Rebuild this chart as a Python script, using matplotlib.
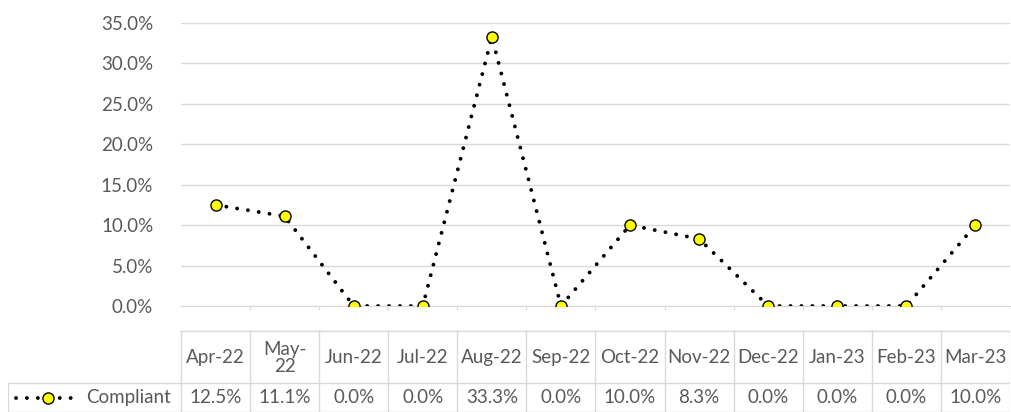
import matplotlib.pyplot as plt
from matplotlib.ticker import PercentFormatter

# Data
months = ['Apr-22', 'May-\n22', 'Jun-22', 'Jul-22', 'Aug-22', 'Sep-22',
          'Oct-22', 'Nov-22', 'Dec-22', 'Jan-23', 'Feb-23', 'Mar-23']
compliant = [12.5, 11.1, 0.0, 0.0, 33.3, 0.0, 10.0, 8.3, 0.0, 0.0, 0.0, 10.0]
series_name = 'Compliant'

plt.rcParams['font.family'] = ['Lato', 'DejaVu Sans']
text_color = '#595959'
grid_color = '#d9d9d9'
fs = 13.5
dots = (0, (0.01, 2.8))
lw = 2.8

W, H = 1012, 412
fig = plt.figure(figsize=(W / 100, H / 100), dpi=100)

# plot area in pixels
px_left, px_right = 181, 1010
px_top, px_bottom = 23, 306
ax = fig.add_axes([px_left / W, 1 - px_bottom / H,
                   (px_right - px_left) / W, (px_bottom - px_top) / H])

x = list(range(len(months)))
ax.plot(x, compliant, color='black', linestyle=dots, linewidth=lw,
        dash_capstyle='round', marker='o', markersize=8,
        markerfacecolor='#ffff00', markeredgecolor='black', markeredgewidth=1,
        zorder=3)

ax.set_xlim(-0.5, len(months) - 0.5)
ax.set_ylim(0, 35)
ax.set_yticks(range(0, 36, 5))
ax.yaxis.set_major_formatter(PercentFormatter(decimals=1))
ax.grid(axis='y', color=grid_color, linewidth=1)
ax.set_axisbelow(True)
ax.tick_params(axis='y', length=0, pad=20, labelsize=fs, labelcolor=text_color)
ax.set_xticks([i - 0.5 for i in range(1, len(months))])
ax.tick_params(axis='x', length=3, color=grid_color, labelbottom=False)
for s in ['top', 'right', 'left']:
    ax.spines[s].set_visible(False)
ax.spines['bottom'].set_color(grid_color)

# data table drawn below the plot
colw = (px_right - px_left) / len(months)
tbl_left_px = 8
tab_top, tab_bottom = 330, 412
tax = fig.add_axes([tbl_left_px / W, 0, (px_right - tbl_left_px) / W, (H - tab_top) / H])
tax.set_xlim(-0.5 - (px_left - tbl_left_px) / colw, len(months) - 0.5)
tax.set_ylim(tab_bottom - tab_top, 0)
tax.axis('off')

row1 = 383 - tab_top
line_kw = dict(color=grid_color, linewidth=1)
xl = tax.get_xlim()[0]
tax.plot([-0.5, len(months) - 0.5], [0.5, 0.5], **line_kw)
tax.plot([xl, len(months) - 0.5], [row1, row1], **line_kw)
tax.plot([xl, len(months) - 0.5], [81.5, 81.5], **line_kw)
tax.plot([xl, xl], [row1, 82], **line_kw)
for i in range(len(months) + 1):
    tax.plot([i - 0.5, i - 0.5], [0, 82], **line_kw)

for i, m in enumerate(months):
    tax.text(i, row1 / 2 + 1, m, ha='center', va='center', fontsize=fs,
             color=text_color, linespacing=1.0)
    tax.text(i, (row1 + 82) / 2, f'{compliant[i]:.1f}%', ha='center', va='center',
             fontsize=fs, color=text_color)

# legend key inside the table
def px2x(p):
    return xl + (p - tbl_left_px) / colw

ymid = (row1 + 82) / 2
tax.plot([px2x(16), px2x(74)], [ymid, ymid], color='black',
         linestyle=dots, linewidth=lw, dash_capstyle='round')
tax.plot([px2x(48)], [ymid], marker='o', markersize=8, markerfacecolor='#ffff00',
         markeredgecolor='black', markeredgewidth=1)
tax.text(px2x(86), ymid, series_name, ha='left', va='center', fontsize=fs,
         color=text_color)

fig.savefig('out.png', dpi=100)
